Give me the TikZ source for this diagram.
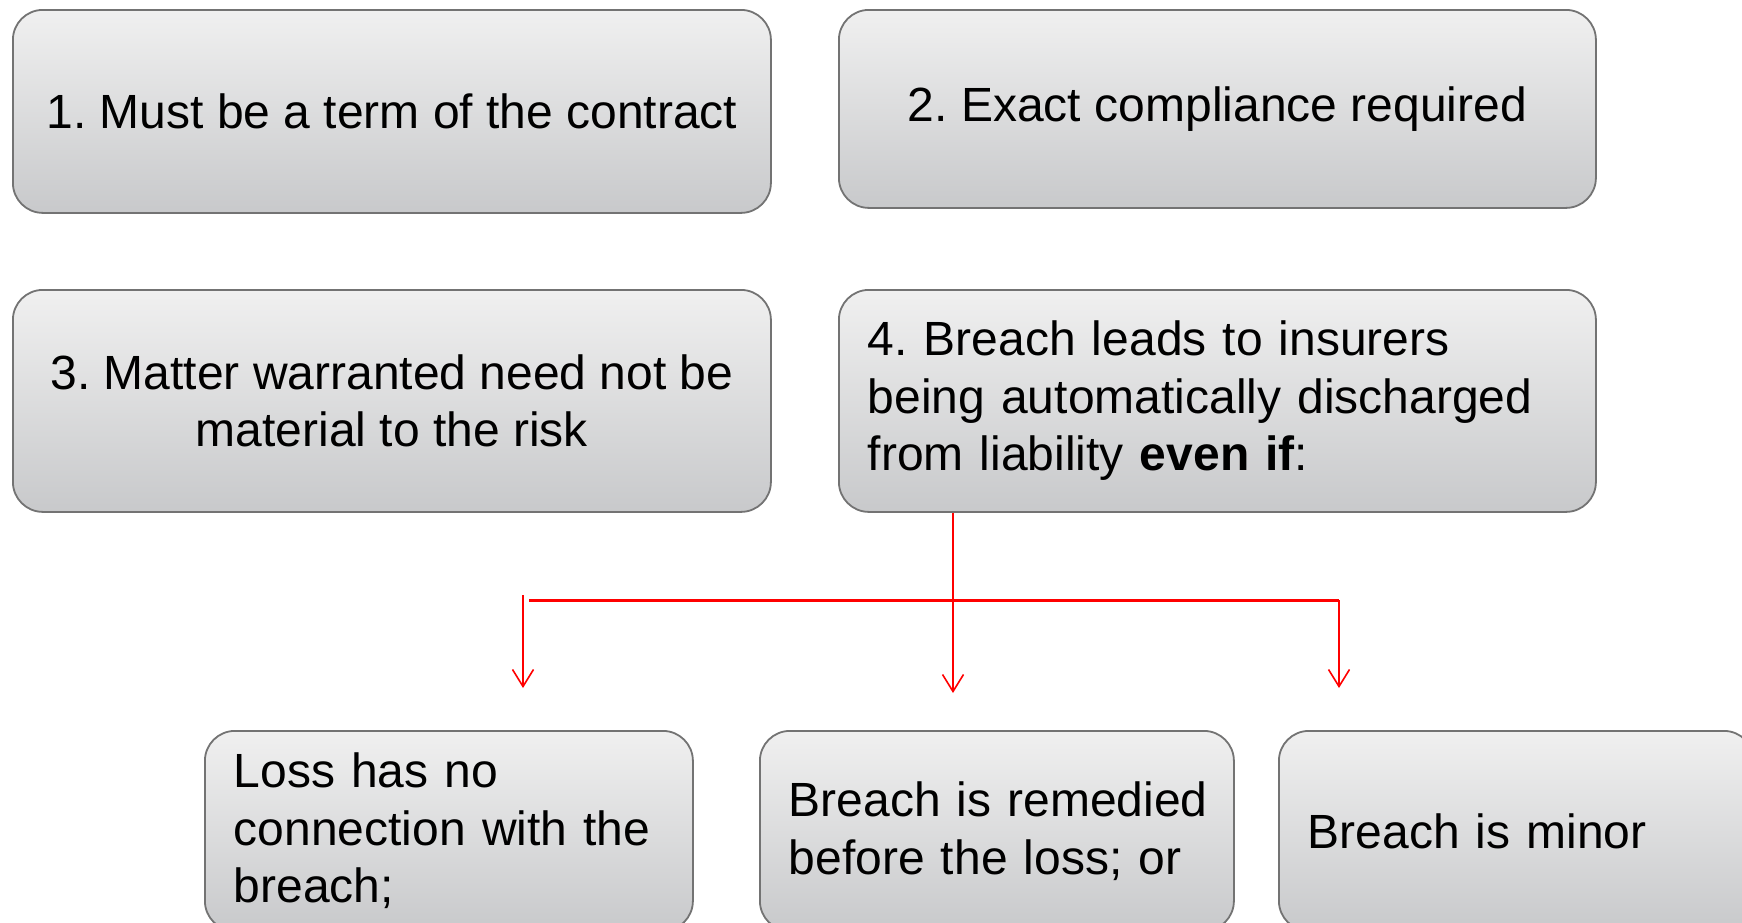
\documentclass[tikz,border=0pt]{standalone}
\usepackage{fontspec}
\setmainfont{Liberation Sans}
\usetikzlibrary{arrows.meta}
\definecolor{boxtop}{HTML}{F0F0F0}
\definecolor{boxbot}{HTML}{C8C9CB}
\definecolor{boxline}{HTML}{737373}
\definecolor{linkred}{HTML}{FF0000}
\newcommand{\cardtext}{\fontsize{48}{57.6}\selectfont\frenchspacing\hyphenpenalty=10000\relax}
\tikzset{
  card/.style={draw=boxline, line width=1.8pt, rounded corners=30pt,
    top color=boxtop, bottom color=boxbot, anchor=north west,
    inner sep=0pt, text=black, font=\cardtext},
  centred/.style={card, align=center},
  leftset/.style={card, align=left, inner xsep=29pt},
  link/.style={draw=linkred, line width=1.6pt},
  bar/.style={draw=linkred, line width=3pt},
  tip/.style={-{Straight Barb[length=17pt,width=21pt]}}
}
\begin{document}
\begin{tikzpicture}[x=1pt,y=-1pt]
  \clip (0,0) rectangle (1742,922);
  \fill[white] (0,0) rectangle (1742,922);

  % top two rows of conditions
  \node[centred, minimum width=758pt, minimum height=203pt] (b1) at (12,9)
    {1. Must be a term of the contract};
  \node[centred, minimum width=757pt, minimum height=198pt] (b2) at (838,9)
    {2. Exact compliance required};
  \node[centred, minimum width=758pt, minimum height=222pt] (b3) at (12,289)
    {3. Matter warranted need not be\\material to the risk};
  \node[leftset, text width=699pt, minimum height=222pt] (b4) at (838,289)
    {4. Breach leads to insurers\\being automatically discharged\\from liability \textbf{even if}:};

  % bottom row of cases
  \node[leftset, text width=430pt, minimum height=200pt] (b5) at (204,730)
    {Loss has no\\connection with the\\breach;};
  \node[leftset, text width=416pt, minimum height=200pt] (b6) at (759,730)
    {\mbox{Breach is remedied}\\before the loss; or};
  \node[leftset, text width=417pt, minimum height=200pt] (b7) at (1278,730)
    {Breach is minor};

  % red branching connectors
  \coordinate (downM) at (953,693);
  \coordinate (barL) at (529,600);
  \coordinate (barR) at (1339,600);
  \coordinate (downR) at (1339,688);
  \coordinate (topL) at (523,595);
  \coordinate (downL) at (523,688);

  \draw[bar] (barL) -- (barR);
  \draw[link, tip] (barR) -- (downR);
  \draw[link, tip] (topL) -- (downL);
  \draw[link, tip] (b4.south -| downM) -- (downM);
\end{tikzpicture}
\end{document}
